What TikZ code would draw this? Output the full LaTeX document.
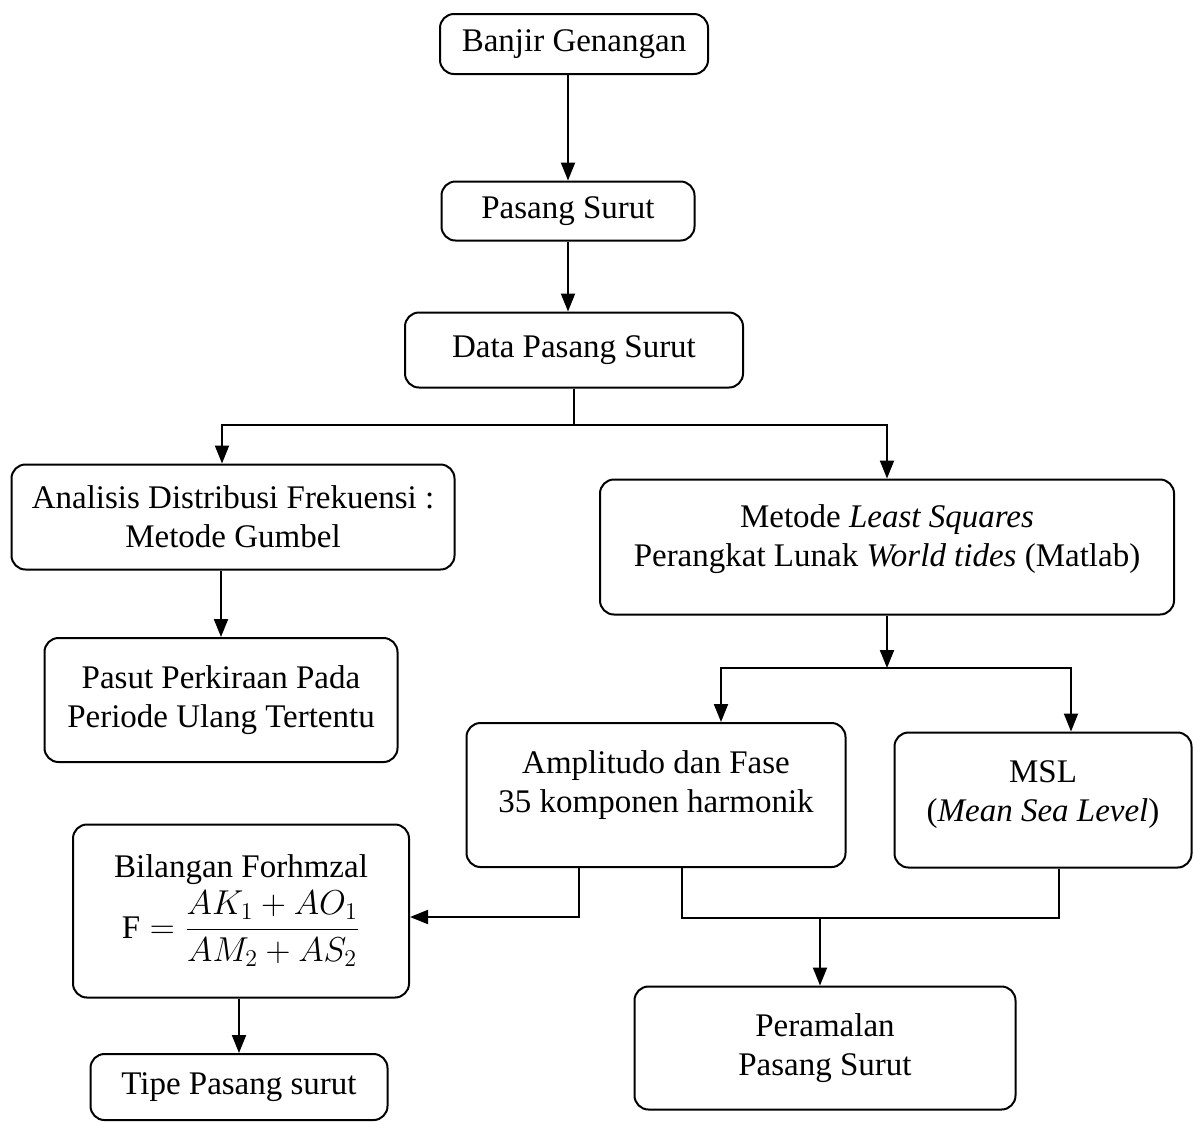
\documentclass[tikz,border=0pt]{standalone}
\usepackage{amsmath}
\usepackage{fontspec}
\setmainfont{Liberation Serif}
\usetikzlibrary{arrows.meta}

\tikzset{
  kotak/.style={draw, line width=1pt, rounded corners=7pt, align=center, inner sep=2pt},
  panah/.style={line width=1pt, -{Triangle[length=9pt,width=7pt]}},
  garis/.style={line width=1pt},
}

\begin{document}
\begin{tikzpicture}[x=0.5pt, y=-0.5pt, font=\fontsize{16.5}{19.5}\selectfont]
    \useasboundingbox (0,0) rectangle (1193,1121);

    % 流程框
    \node[kotak, minimum width=134pt, minimum height=30pt] (banjir) at (574,44) {Banjir Genangan};
    \node[kotak, minimum width=126.5pt, minimum height=29.5pt] (pasut) at (568,211) {Pasang Surut};
    \node[kotak, minimum width=169pt, minimum height=37.5pt] (data) at (574,350) {Data Pasang Surut};
    \node[kotak, minimum width=221.5pt, minimum height=52.5pt] (gumbel) at (233,517) {Analisis Distribusi Frekuensi :\\Metode Gumbel};
    \node[kotak, minimum width=176.5pt, minimum height=62pt] (perkiraan) at (221,700) {Pasut Perkiraan Pada\\Periode Ulang Tertentu};
    \node[kotak, minimum width=287pt, minimum height=67.5pt, text depth=11.6pt] (lsq) at (887,547) {Metode \textit{Least Squares}\\Perangkat Lunak \textit{World tides} (Matlab)};
    \node[kotak, minimum width=189.5pt, minimum height=72pt, text depth=13.6pt] (amp) at (656,795) {Amplitudo dan Fase\\35 komponen harmonik};
    \node[kotak, minimum width=148.5pt, minimum height=67.5pt, text depth=8.6pt] (msl) at (1043,800) {MSL\\(\textit{Mean Sea Level})};
    \node[kotak, minimum width=168pt, minimum height=86.5pt] (formzal) at (241,911) {Bilangan Forhmzal\\[2pt]$\mathrm{F}=\dfrac{AK_1+AO_1}{AM_2+AS_2}$};
    \node[kotak, minimum width=148.5pt, minimum height=33pt] (tipe) at (239,1087) {Tipe Pasang surut};
    \node[kotak, minimum width=190.5pt, minimum height=61.5pt] (ramal) at (825,1048) {Peramalan\\Pasang Surut};

    % 主干箭头
    \draw[panah] (banjir.south -| pasut.north) -- (pasut.north);
    \draw[panah] (pasut.south) -- (pasut.south |- data.north);

    % 第一次分支
    \coordinate (cabang1) at (574,425);
    \draw[garis] (data.south) -- (cabang1);
    \draw[panah] (cabang1) -| ([xshift=-5.5pt]gumbel.north);
    \draw[panah] (cabang1) -| (lsq.north);
    \draw[panah] (gumbel.south -| perkiraan.north) -- (perkiraan.north);

    % 第二次分支
    \coordinate (cabang2) at (887,668);
    \draw[panah] (lsq.south) -- (cabang2);
    \draw[panah] (cabang2) -| ([xshift=32.5pt]amp.north);
    \draw[panah] (cabang2) -| ([xshift=14pt]msl.north);

    % 汇合
    \draw[panah] ([xshift=-38.5pt]amp.south) |- ([yshift=-3pt]formzal.east);
    \coordinate (cabang3) at (820,918);
    \draw[garis] ([xshift=13pt]amp.south) |- (cabang3) -| ([xshift=8pt]msl.south);
    \draw[panah] (cabang3) -- (cabang3 |- ramal.north);
    \draw[panah] (formzal.south -| tipe.north) -- (tipe.north);
\end{tikzpicture}
\end{document}
